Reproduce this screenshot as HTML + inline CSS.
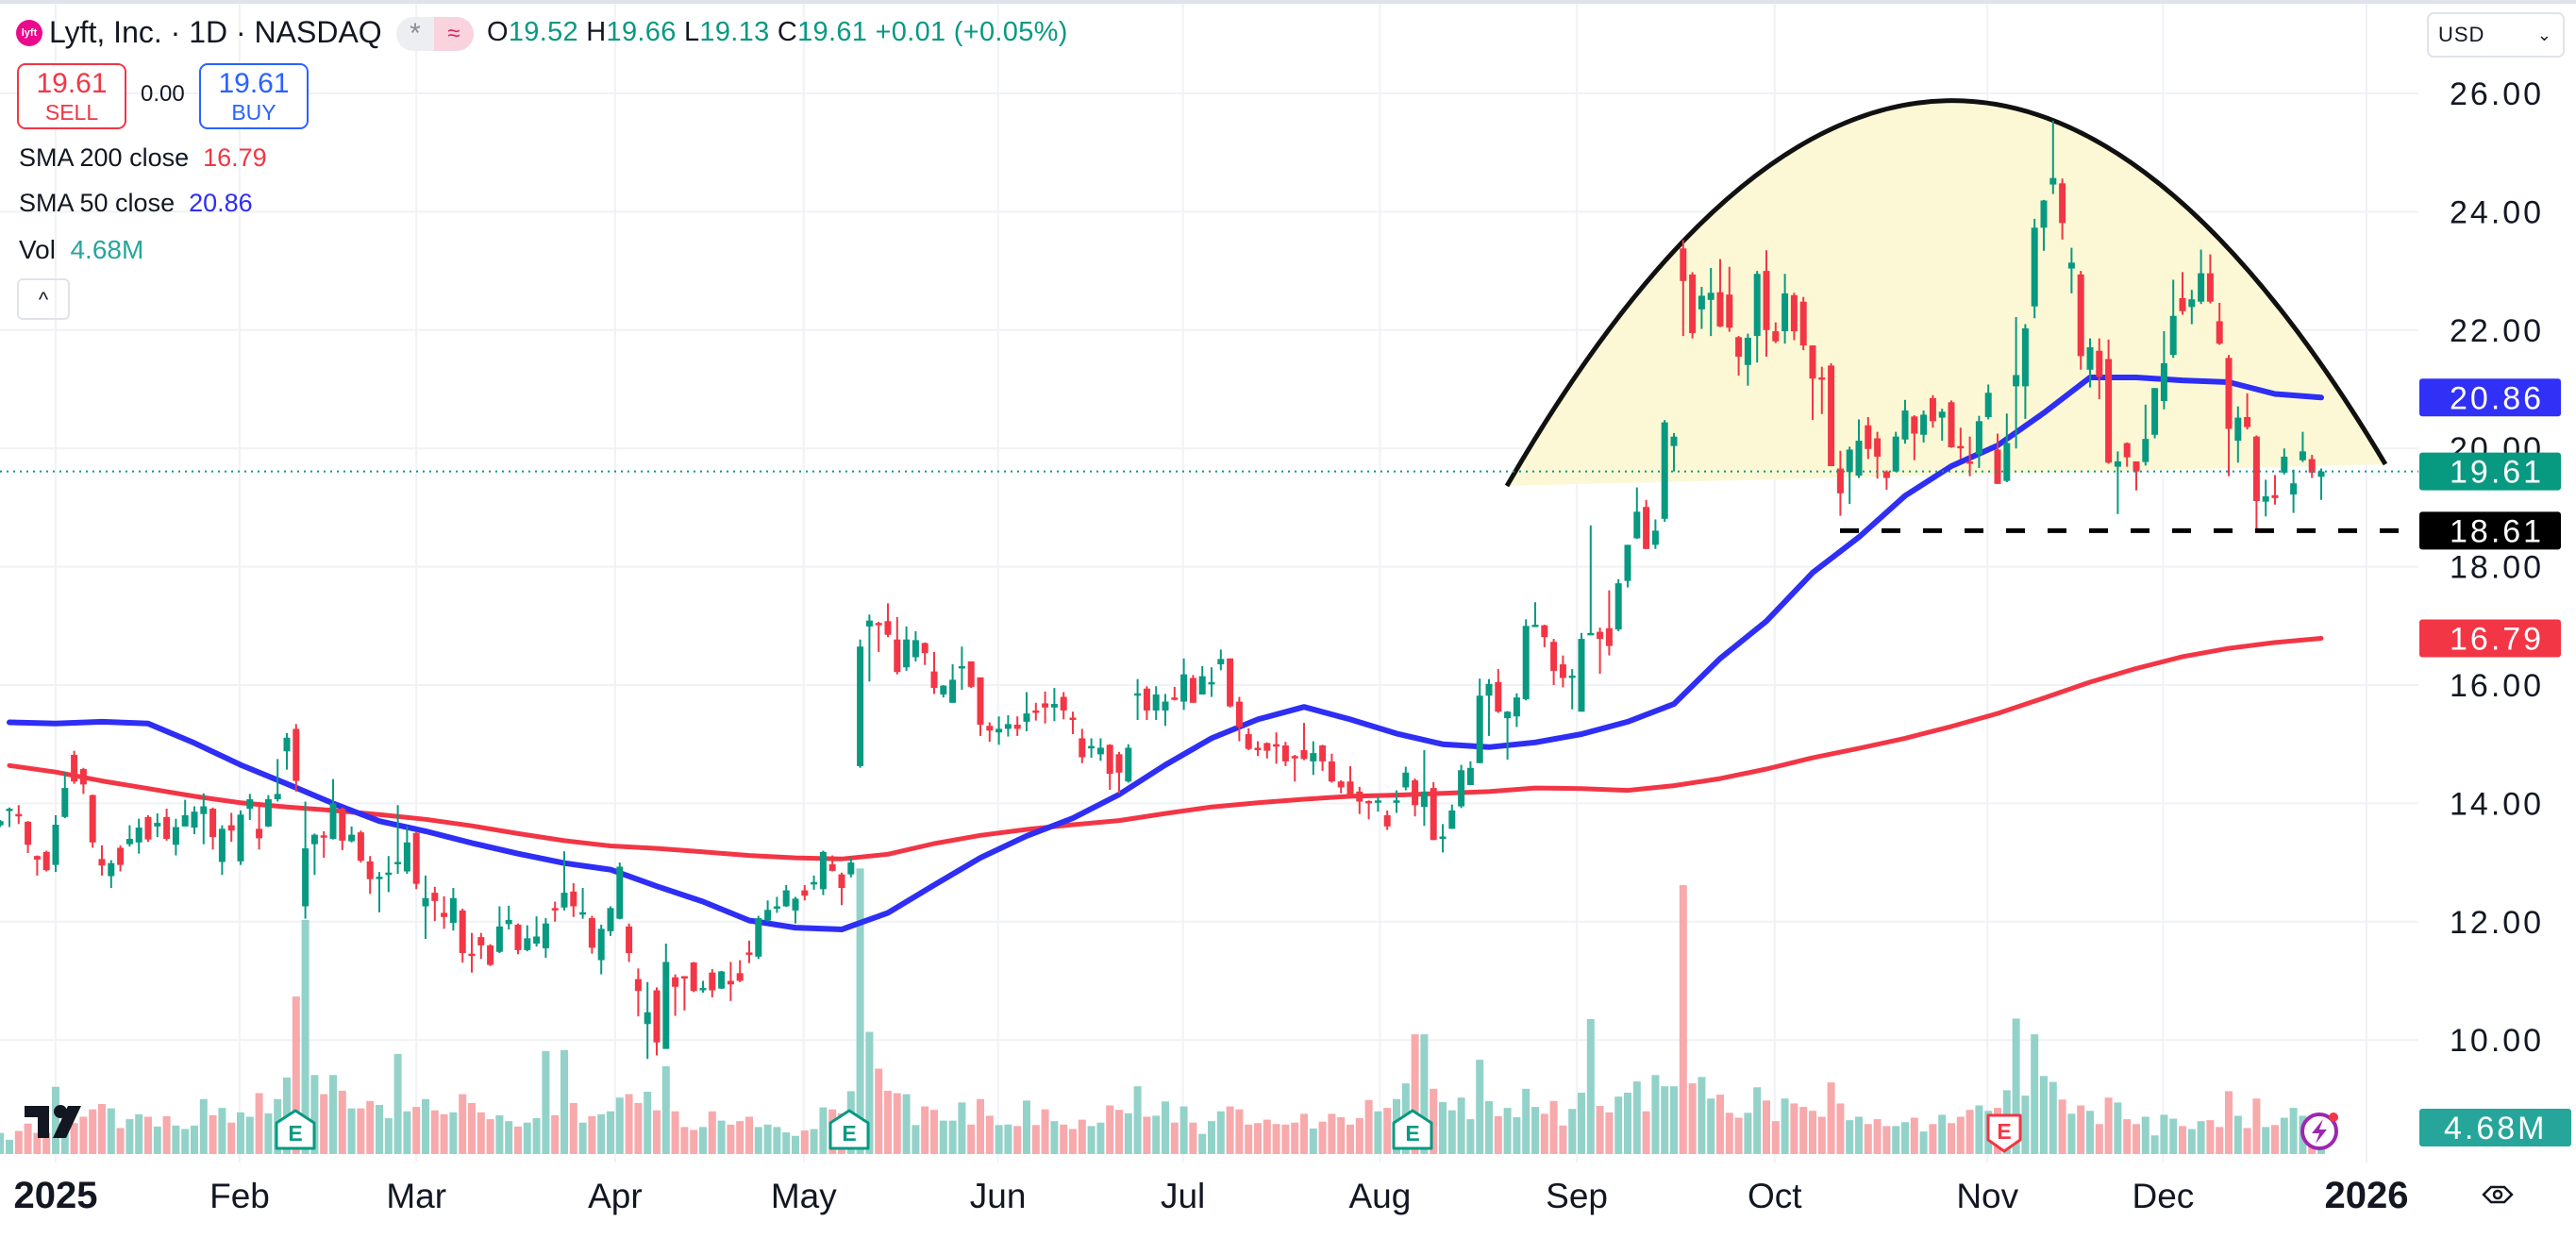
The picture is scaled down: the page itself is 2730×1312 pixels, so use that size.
<!DOCTYPE html>
<html><head><meta charset="utf-8">
<style>
html,body{margin:0;padding:0;background:#fff;}
body{width:2730px;height:1312px;position:relative;overflow:hidden;font-family:"Liberation Sans",sans-serif;color:#131722;}
.abs{position:absolute;white-space:nowrap;}
.g{color:#089981}
</style></head>
<body>
<svg id="chart" width="2730" height="1312" style="position:absolute;left:0;top:0" xmlns="http://www.w3.org/2000/svg">
  <rect x="0" y="0" width="2730" height="4" fill="#e0e3eb"/>
  <g id="grid"></g>
  <path id="arcFill" fill="#fcf8d5" stroke="none"/>
  <path id="arcLine" fill="none" stroke="#111" stroke-width="5"/>
  <g id="vol"></g>
  <g id="smas"></g>
  <g id="candles"></g>
  <g id="lines"></g>
  <g id="axis"></g>
  <g id="taxis"></g>
  <g id="markers">
    <g>
      <rect x="26" y="1172" width="26" height="12" fill="#131722"/>
      <rect x="40" y="1172" width="12" height="34" fill="#131722"/>
      <circle cx="64" cy="1178" r="7" fill="#131722"/>
      <polygon points="72,1172 86,1172 70,1206 56,1206" fill="#131722"/>
    </g>
    <g>
      <path d="M293,1217 L293,1190 L313,1177 L333,1190 L333,1217 Z" fill="#fff" stroke="#089981" stroke-width="3" stroke-linejoin="round"/>
      <text x="313" y="1209" font-size="23" font-weight="bold" fill="#089981" text-anchor="middle" font-family="Liberation Sans, sans-serif">E</text>
    </g>
    <g>
      <path d="M880,1217 L880,1190 L900,1177 L920,1190 L920,1217 Z" fill="#fff" stroke="#089981" stroke-width="3" stroke-linejoin="round"/>
      <text x="900" y="1209" font-size="23" font-weight="bold" fill="#089981" text-anchor="middle" font-family="Liberation Sans, sans-serif">E</text>
    </g>
    <g>
      <path d="M1477,1217 L1477,1190 L1497,1177 L1517,1190 L1517,1217 Z" fill="#fff" stroke="#089981" stroke-width="3" stroke-linejoin="round"/>
      <text x="1497" y="1209" font-size="23" font-weight="bold" fill="#089981" text-anchor="middle" font-family="Liberation Sans, sans-serif">E</text>
    </g>
    <g>
      <path d="M2107,1182 L2141,1182 L2141,1208 L2124,1220 L2107,1208 Z" fill="#fff" stroke="#f23645" stroke-width="3" stroke-linejoin="round"/>
      <text x="2124" y="1207" font-size="23" font-weight="bold" fill="#f23645" text-anchor="middle" font-family="Liberation Sans, sans-serif">E</text>
    </g>
    <g>
      <circle cx="2458" cy="1199" r="18" fill="#fff" stroke="#9c27b0" stroke-width="4"/>
      <polygon points="2462,1186 2450,1201 2458,1201 2454,1212 2466,1197 2458,1197" fill="#9c27b0"/>
      <circle cx="2473" cy="1184" r="5" fill="#f23645"/>
    </g>
    <g>
      <path d="M2632,1266 L2640,1258 L2654,1258 L2662,1266 L2654,1274 L2640,1274 Z" fill="none" stroke="#131722" stroke-width="2.5"/>
      <circle cx="2647" cy="1266" r="4" fill="none" stroke="#131722" stroke-width="2.5"/>
    </g>
  </g>
</svg>

<div class="abs" style="left:17px;top:21px;width:28px;height:28px;border-radius:14px;background:#ea0b8c;color:#fff;font-size:11px;font-weight:bold;line-height:28px;text-align:center;">lyft</div>
<div class="abs" style="left:52px;top:16px;font-size:32px;">Lyft, Inc. · 1D · NASDAQ</div>
<div class="abs" style="left:420px;top:18px;width:82px;height:36px;border-radius:18px;background:#eceef2;overflow:hidden;">
  <div style="position:absolute;left:0;top:0;width:40px;height:36px;line-height:36px;text-align:center;color:#8a8d96;font-size:30px;">*</div>
  <div style="position:absolute;left:40px;top:0;width:42px;height:36px;line-height:36px;text-align:center;background:#f9d3dd;color:#e0245e;font-size:24px;">≈</div>
</div>
<div class="abs" style="left:516px;top:18px;font-size:29px;letter-spacing:0.3px;">O<span class="g">19.52</span> H<span class="g">19.66</span> L<span class="g">19.13</span> C<span class="g">19.61</span> <span class="g">+0.01 (+0.05%)</span></div>

<div class="abs" style="left:18px;top:67px;width:112px;height:66px;border:2px solid #f23645;border-radius:9px;color:#f23645;text-align:center;background:#fff;">
  <div style="font-size:30px;margin-top:3px;">19.61</div><div style="font-size:23px;margin-top:0px;">SELL</div></div>
<div class="abs" style="left:149px;top:86px;font-size:24px;">0.00</div>
<div class="abs" style="left:211px;top:67px;width:112px;height:66px;border:2px solid #2962ff;border-radius:9px;color:#2962ff;text-align:center;background:#fff;">
  <div style="font-size:30px;margin-top:3px;">19.61</div><div style="font-size:23px;margin-top:0px;">BUY</div></div>

<div class="abs" style="left:20px;top:152px;font-size:27px;">SMA 200 close&nbsp; <span style="color:#f23645">16.79</span></div>
<div class="abs" style="left:20px;top:200px;font-size:27px;">SMA 50 close&nbsp; <span style="color:#2e2ef5">20.86</span></div>
<div class="abs" style="left:20px;top:249px;font-size:28px;">Vol&nbsp; <span style="color:#26a69a">4.68M</span></div>
<div class="abs" style="left:18px;top:295px;width:52px;height:40px;border:2px solid #e0e3eb;border-radius:6px;text-align:center;line-height:42px;font-size:22px;">^</div>

<div class="abs" style="left:2572px;top:13px;width:142px;height:44px;border:2px solid #e0e3eb;border-radius:7px;font-size:22px;line-height:44px;">
  <span style="margin-left:10px;letter-spacing:1px;">USD</span><span style="position:absolute;right:12px;top:0;font-size:18px;">⌄</span></div>

<script>
var X0 = 59, STEP = 9.8, FIRST = -6;
var VOL_BASE = 1223, VOL_K = 5.2;
var P_TOP = 26, Y_TOP = 99, PX_PER = 62.7;
function x(i){ return X0 + i*STEP; }
function y(p){ return Y_TOP + (P_TOP - p)*PX_PER; }

var opens = [13.63,13.88,13.82,13.69,13.11,13.18,
12.96,13.77,14.82,14.58,14.14,13.06,12.77,13.25,13.31,13.34,
13.77,13.61,13.77,13.30,13.61,13.59,13.82,13.91,13.01,13.63,
13.02,13.91,13.57,13.61,14.07,14.88,15.26,12.26,13.31,13.46,
13.40,13.91,13.36,13.51,13.02,12.74,12.81,12.97,12.85,13.50,
12.26,12.49,12.15,11.98,12.19,11.46,11.74,11.60,11.49,11.96,
11.95,11.52,11.63,11.55,12.23,12.24,12.51,12.15,12.06,11.35,
11.84,12.05,11.92,11.03,10.27,10.84,9.85,11.06,11.08,11.31,
10.86,11.14,10.87,11.00,11.13,11.48,11.41,12.02,12.23,12.26,
12.19,12.53,12.66,12.55,12.97,12.80,12.80,14.63,16.99,17.05,
17.08,16.77,16.30,16.47,16.71,16.23,15.84,15.70,16.30,16.40,
16.13,15.31,15.20,15.26,15.33,15.38,15.57,15.69,15.62,15.80,
15.45,15.10,14.95,14.83,14.99,14.83,14.37,15.84,15.94,15.57,
15.57,15.79,15.72,16.12,15.84,16.03,16.35,16.45,15.72,15.17,
14.94,15.02,15.00,14.98,14.80,14.90,14.71,14.98,14.71,14.37,
14.37,14.20,14.04,14.03,13.80,14.02,14.27,14.39,13.94,14.26,
13.42,13.57,13.95,14.31,14.68,15.82,16.05,15.44,15.47,15.76,
17.00,17.01,16.73,16.35,16.13,15.55,16.86,16.90,16.96,16.94,
17.76,18.48,19.01,18.37,18.81,20.04,23.38,22.94,22.35,22.51,
22.64,22.60,21.88,21.41,21.90,23.00,21.98,21.98,22.59,22.48,
21.74,21.20,21.40,19.66,19.60,19.54,20.39,20.17,19.61,19.61,
20.15,20.54,20.23,20.85,20.52,20.78,20.04,19.78,19.90,20.53,
19.98,19.45,21.05,21.05,22.40,23.73,24.46,24.48,23.04,22.94,
21.33,21.65,21.51,19.69,20.09,19.78,19.77,20.23,20.80,21.58,
22.54,22.39,22.48,22.96,22.15,21.53,20.13,20.53,20.20,19.10,
19.21,19.59,19.22,19.80,19.82,19.52];
var highs = [13.72,13.93,13.97,13.70,13.12,13.20,
13.80,14.53,14.89,14.60,14.15,13.29,13.04,13.29,13.63,13.74,
13.80,13.83,13.91,13.74,14.06,13.95,14.17,13.93,13.63,13.84,
13.88,14.16,13.99,14.14,14.75,15.19,15.34,14.03,13.49,13.53,
14.41,13.93,13.61,13.54,13.11,12.84,13.11,13.97,13.61,13.52,
12.78,12.59,12.43,12.57,12.22,11.81,11.81,11.62,12.26,12.27,
11.97,11.94,12.09,12.06,12.34,13.19,12.65,12.57,12.10,11.95,
12.26,13.00,11.97,11.21,10.98,10.89,11.63,11.11,11.08,11.32,
11.00,11.20,11.17,11.32,11.35,11.68,12.10,12.36,12.42,12.62,
12.42,12.62,12.78,13.20,13.12,12.83,13.10,16.77,17.19,17.07,
17.38,17.15,16.99,16.91,16.72,16.56,16.00,16.35,16.65,16.40,
16.13,15.37,15.47,15.49,15.47,15.88,15.70,15.89,15.95,15.88,
15.55,15.26,15.10,15.10,15.00,14.87,15.00,16.10,15.98,15.98,
15.85,15.97,16.45,16.17,16.32,16.30,16.60,16.45,15.80,15.27,
15.05,15.03,15.20,15.04,14.82,15.36,15.05,14.99,14.84,14.39,
14.63,14.28,14.05,14.12,13.88,14.22,14.62,14.42,14.90,14.36,
13.65,13.98,14.65,14.71,16.11,16.10,16.27,15.56,15.86,17.11,
17.40,17.02,16.78,16.50,16.27,16.88,18.70,16.97,17.60,17.79,
18.37,19.34,19.13,18.80,20.48,20.26,23.52,22.98,22.73,23.05,
23.20,23.07,21.90,21.94,23.00,23.35,22.13,22.95,22.63,22.56,
21.74,21.38,21.44,19.96,20.03,20.49,20.53,20.28,19.63,20.28,
20.82,20.56,20.64,20.90,20.67,20.81,20.35,20.20,20.55,21.08,
20.25,20.59,22.22,22.10,23.88,24.20,25.54,24.56,23.39,23.00,
21.86,21.86,21.84,19.95,20.10,19.78,20.74,21.02,21.98,22.85,
22.98,22.68,23.36,23.28,22.46,21.58,20.71,20.93,20.22,19.47,
19.55,20.00,19.64,20.28,19.89,19.66];
var lows = [13.60,13.60,13.65,13.16,12.78,12.85,
12.84,13.75,14.33,14.16,13.25,12.78,12.57,12.85,13.27,13.15,
13.35,13.43,13.37,13.12,13.61,13.48,13.31,13.22,12.79,13.35,
12.96,13.72,13.22,13.60,14.03,14.57,14.20,12.05,12.79,13.08,
13.39,13.21,13.34,13.00,12.47,12.16,12.50,12.81,12.81,12.55,
11.71,12.01,11.88,11.85,11.31,11.14,11.37,11.25,11.47,11.87,
11.45,11.50,11.58,11.39,12.00,12.19,12.08,12.05,11.46,11.11,
11.76,12.04,11.32,10.40,9.68,9.74,9.85,10.41,10.50,10.81,
10.80,10.72,10.86,10.66,10.98,11.30,11.37,12.00,12.15,12.25,
11.97,12.36,12.54,12.45,12.85,12.28,12.75,14.60,16.06,16.56,
16.81,16.18,16.24,16.40,16.34,15.85,15.79,15.70,15.92,15.95,
15.14,15.04,14.99,15.13,15.14,15.22,15.40,15.35,15.39,15.42,
15.17,14.68,14.77,14.72,14.23,14.17,14.35,15.41,15.41,15.41,
15.31,15.74,15.58,15.70,15.84,15.80,16.25,15.62,15.05,14.90,
14.80,14.76,14.67,14.63,14.37,14.73,14.48,14.55,14.35,14.17,
14.10,13.82,13.73,13.86,13.55,13.84,14.22,13.78,13.62,13.38,
13.17,13.57,13.92,14.31,14.68,15.14,15.53,14.74,15.29,15.74,
16.99,16.64,16.00,15.96,15.59,15.55,16.85,16.19,16.50,16.91,
17.65,18.47,18.30,18.30,18.76,19.61,21.90,21.86,22.02,21.90,
22.05,21.97,21.23,21.06,21.45,21.55,21.78,21.77,21.83,21.66,
20.48,20.58,19.70,18.86,19.06,19.50,19.82,19.49,19.30,19.60,
20.08,19.80,20.10,20.35,20.13,20.01,19.82,19.53,19.67,20.49,
19.40,19.43,20.00,20.50,22.20,23.34,24.30,23.53,22.62,21.33,
21.03,20.83,19.74,18.89,19.69,19.29,19.71,20.17,20.66,21.53,
22.26,22.10,22.44,22.45,21.75,19.53,19.76,20.32,18.61,18.85,
19.05,19.56,18.91,19.77,19.50,19.13];
var closes = [13.70,13.91,13.80,13.30,13.05,12.87,
13.64,14.26,14.37,14.32,13.34,12.95,12.99,12.96,13.40,13.59,
13.39,13.67,13.40,13.60,13.80,13.86,13.95,13.43,13.57,13.54,
13.81,14.07,13.41,14.07,14.16,15.11,14.38,13.24,13.47,13.44,
14.00,13.37,13.47,13.03,12.72,12.76,12.83,13.01,13.34,12.64,
12.40,12.35,12.08,12.40,11.47,11.44,11.60,11.27,11.92,12.03,
11.52,11.72,11.75,11.97,12.21,12.49,12.26,12.16,11.56,11.88,
12.23,12.93,11.47,10.83,10.47,9.96,11.32,10.90,11.06,10.83,
10.88,10.84,11.16,10.94,11.00,11.46,12.06,12.20,12.26,12.53,
12.39,12.44,12.67,13.18,12.86,12.57,13.00,16.65,17.09,17.03,
16.85,16.22,16.77,16.76,16.54,15.95,15.99,16.09,16.32,15.97,
15.33,15.23,15.26,15.34,15.26,15.52,15.54,15.62,15.68,15.57,
15.43,14.78,14.97,14.94,14.50,14.52,14.94,15.86,15.57,15.84,
15.72,15.76,16.18,15.70,16.15,16.05,16.44,15.64,15.29,14.92,
14.92,14.89,14.98,14.71,14.79,14.75,14.85,14.71,14.37,14.27,
14.12,14.03,14.02,14.05,13.61,14.05,14.52,13.97,14.20,13.38,
13.44,13.88,14.56,14.60,15.82,16.02,15.55,15.55,15.79,17.00,
17.02,16.81,16.24,16.12,16.16,16.78,16.88,16.78,16.66,17.72,
18.37,18.93,18.30,18.61,20.44,20.20,22.83,21.95,22.58,22.63,
22.06,22.04,21.55,21.87,22.95,22.00,21.81,22.62,21.98,21.74,
21.18,21.18,19.70,19.24,19.98,20.13,19.99,19.86,19.50,20.20,
20.64,20.25,20.57,20.46,20.62,20.02,20.02,19.76,20.46,20.94,
19.40,20.09,21.24,22.03,23.73,24.19,24.57,23.81,23.14,21.56,
21.71,21.21,19.76,19.78,19.85,19.61,20.16,21.02,21.44,22.24,
22.32,22.52,22.96,22.48,21.77,20.33,20.52,20.36,19.11,19.19,
19.16,19.86,19.41,19.95,19.59,19.61];
var volumes = [4.3,2.9,4.7,6.2,4.3,4.3,
13.7,7.7,6.3,7.6,9.1,10.2,9.3,5.3,7.1,8.1,
7.6,5.6,7.7,5.8,5.1,5.8,11.2,7.9,9.4,6.4,
8.5,7.6,12.4,8.3,11.2,15.6,32.1,47.7,16.1,12.2,
16.1,12.9,9.3,9.3,10.8,10.0,7.3,20.4,8.7,9.6,
11.2,8.9,8.1,8.5,12.2,10.4,8.5,7.1,7.9,6.7,
5.6,6.4,7.3,21.0,7.9,21.2,10.4,6.4,7.7,8.1,
8.7,11.5,12.2,10.4,12.7,8.9,17.9,8.7,5.5,4.9,
5.5,8.7,6.8,6.0,6.7,7.6,5.5,6.0,5.5,4.4,
3.7,4.8,5.1,9.5,9.1,8.3,12.8,58.2,24.9,17.4,
12.9,12.4,12.2,5.9,9.7,9.0,6.8,6.8,10.5,6.0,
11.2,7.8,5.9,6.0,5.7,10.9,5.9,9.1,6.7,6.0,
5.1,7.0,5.7,6.4,9.9,9.0,8.3,13.8,7.6,7.8,
10.7,6.4,9.7,6.4,4.1,6.7,8.7,9.7,9.1,6.0,
6.3,7.0,6.1,6.0,6.4,8.2,5.2,6.6,8.2,7.5,
6.0,7.3,11.0,8.7,9.4,11.2,14.4,24.4,24.4,13.3,
10.6,8.9,11.5,7.1,19.2,10.8,7.7,9.4,7.5,13.3,
9.6,8.2,10.8,5.8,9.2,12.5,27.5,9.8,8.5,11.7,
12.5,14.8,8.7,16.1,13.8,13.8,54.8,14.4,15.7,11.3,
12.1,8.4,7.4,8.4,13.6,10.9,6.7,11.3,10.3,9.6,
8.8,7.6,14.6,10.3,6.9,7.6,6.1,7.1,5.7,5.7,
6.5,7.4,4.6,6.1,8.0,6.3,7.6,9.0,9.9,8.8,
9.4,13.0,27.6,11.9,24.4,15.9,14.7,11.1,8.2,9.9,
8.8,6.1,11.5,10.5,7.1,6.1,7.6,3.8,8.0,7.2,
5.7,5.1,6.7,6.9,5.5,12.8,7.8,5.3,11.3,5.5,
5.9,7.4,9.4,7.8,5.0,4.68];
var smaStart = -5, smaStep = 5;
var sma50 = [15.37,15.35,15.38,15.35,15.02,14.65,14.33,14.00,13.70,13.53,13.33,13.15,12.99,12.88,12.60,12.34,12.02,11.90,11.87,12.15,12.62,13.08,13.45,13.75,14.15,14.65,15.10,15.42,15.63,15.42,15.18,15.00,14.95,15.03,15.17,15.38,15.68,16.45,17.08,17.90,18.50,19.20,19.70,20.05,20.60,21.20,21.20,21.15,21.12,20.92,20.86];
var sma200 = [14.64,14.53,14.38,14.25,14.12,14.01,13.94,13.88,13.81,13.73,13.62,13.49,13.37,13.28,13.24,13.18,13.12,13.08,13.06,13.14,13.32,13.46,13.56,13.64,13.71,13.83,13.94,14.01,14.07,14.12,14.14,14.17,14.20,14.26,14.25,14.22,14.30,14.42,14.58,14.77,14.93,15.10,15.30,15.52,15.78,16.05,16.28,16.48,16.62,16.72,16.79];
var priceTicks = [26,24,22,20,18,16,14,12,10];
var monthLabels = ["2025","Feb","Mar","Apr","May","Jun","Jul","Aug","Sep","Oct","Nov","Dec","2026"];
var monthTickIdx = [0,19.9,39,60.5,80.9,101.9,121.9,143.2,164.5,185.9,208.9,227.9,249.9];
var lastClose = 19.61, supportLevel = 18.61, sma50Last = 20.86, sma200Last = 16.79;

var NS = "http://www.w3.org/2000/svg";
function mk(tag, attrs, parent){ var e = document.createElementNS(NS, tag); for (var k in attrs) e.setAttribute(k, attrs[k]); parent.appendChild(e); return e; }
var PLOT_R = 2563;

var grid = document.getElementById('grid');
priceTicks.forEach(function(p){
  var l = mk('line', {x1:0, x2:PLOT_R, y1:y(p), y2:y(p), stroke:'#f0f2f6', 'stroke-width':2}, grid);
  
  
});
monthTickIdx.forEach(function(t){
  var l = mk('line', {x1:x(t), x2:x(t), y1:4, y2:1232, stroke:'#f0f2f6', 'stroke-width':2}, grid);
  
  
});

(function(){
  var x0 = 1597, y0 = 515, x2 = 2528, y2 = 492, cx = 2062, cy = -290;
  var d = 'M'+x0+','+y0+' Q'+cx+','+cy+' '+x2+','+y2;
  document.getElementById('arcLine').setAttribute('d', d);
  document.getElementById('arcFill').setAttribute('d', d+' Z');
})();

var vg = document.getElementById('vol');
volumes.forEach(function(v, j){
  var i = j + FIRST;
  var up = closes[j] >= opens[j];
  var h = v*VOL_K;
  var r = mk('rect', {x:x(i)-4, y:VOL_BASE-h, width:8, height:h, fill: up ? '#93d2c9' : '#f7a9ac'}, vg);
  
  
});

function smaPath(arr){ return arr.map(function(v,k){ return (k?'L':'M') + x(smaStart + k*smaStep).toFixed(1) + ',' + y(v).toFixed(1); }).join(' '); }
var sg = document.getElementById('smas');
var s200 = mk('path', {d:smaPath(sma200), fill:'none', stroke:'#f23645', 'stroke-width':5, 'stroke-linejoin':'round', 'stroke-linecap':'round'}, sg);


var s50 = mk('path', {d:smaPath(sma50), fill:'none', stroke:'#2e2ef5', 'stroke-width':6, 'stroke-linejoin':'round', 'stroke-linecap':'round'}, sg);



var cg = document.getElementById('candles');
opens.forEach(function(o, j){
  var i = j + FIRST, c = closes[j], hi = highs[j], lo = lows[j];
  var col = c >= o ? '#089981' : '#f23645';
  var g = mk('g', {}, cg);
  
  
  mk('line', {x1:x(i), x2:x(i), y1:y(hi), y2:y(lo), stroke:col, 'stroke-width':2}, g);
  var top = Math.min(y(o), y(c)), bh = Math.max(2.5, Math.abs(y(o)-y(c)));
  mk('rect', {x:x(i)-3.5, y:top, width:7, height:bh, fill:col}, g);
});

var lg = document.getElementById('lines');
var dl = mk('line', {x1:0, x2:PLOT_R, y1:y(lastClose), y2:y(lastClose), stroke:'#089981', 'stroke-width':2, 'stroke-dasharray':'2 5'}, lg);


var sl = mk('line', {x1:1950, x2:PLOT_R, y1:y(supportLevel), y2:y(supportLevel), stroke:'#000', 'stroke-width':5, 'stroke-dasharray':'20 24'}, lg);



var ag = document.getElementById('axis');
priceTicks.forEach(function(p){
  var t = mk('text', {x:2596, y:y(p)+12, 'font-size':34, 'letter-spacing':3, fill:'#131722', 'font-family':'Liberation Sans, sans-serif'}, ag);
  t.textContent = p.toFixed(2);
  
  
});
function badge(val, col, name, w){
  var g = mk('g', {}, ag);
  
  
  mk('rect', {x:2564, y:y(val)-20, width:w||150, height:40, rx:3, fill:col}, g);
  var t = mk('text', {x:2596, y:y(val)+12, 'font-size':34, 'letter-spacing':3, fill:'#fff', 'font-family':'Liberation Sans, sans-serif'}, g);
  t.textContent = val.toFixed(2);
}
badge(sma50Last, '#3030f6', 'sma50-price-badge');
badge(lastClose, '#089981', 'last-price-badge');
badge(supportLevel, '#000000', 'support-price-badge');
badge(sma200Last, '#f23645', 'sma200-price-badge');
(function(){
  var g = mk('g', {}, ag);
  
  
  mk('rect', {x:2564, y:1175, width:161, height:40, rx:3, fill:'#26a69a'}, g);
  var t = mk('text', {x:2590, y:1207, 'font-size':34, 'letter-spacing':3, fill:'#fff', 'font-family':'Liberation Sans, sans-serif'}, g);
  t.textContent = volumes[volumes.length-1].toFixed(2) + 'M';
})();

var tg = document.getElementById('taxis');
monthLabels.forEach(function(m, k){
  var bold = (m === '2025' || m === '2026');
  var t = mk('text', {x:x(monthTickIdx[k]), y:1280, 'font-size':bold?40:37, 'font-weight':bold?'bold':'normal', 'text-anchor':'middle', fill:'#131722', 'font-family':'Liberation Sans, sans-serif'}, tg);
  t.textContent = m;
  
  
});
</script>
</body></html>
